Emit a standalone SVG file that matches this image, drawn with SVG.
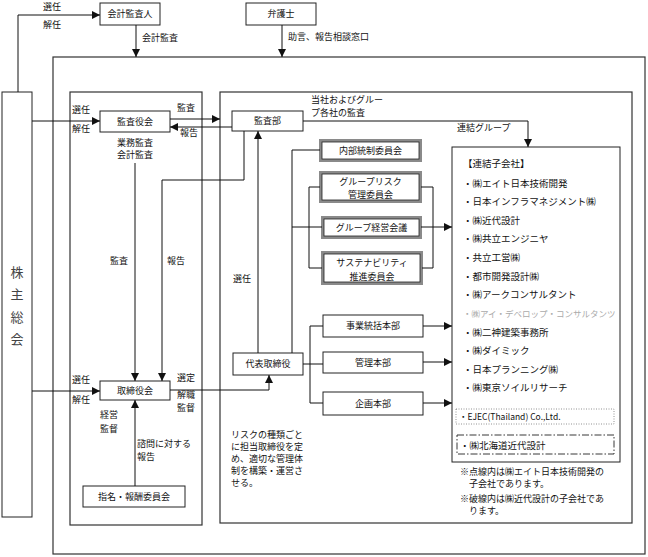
<svg xmlns="http://www.w3.org/2000/svg" width="648" height="557" viewBox="0 0 648 557">
<style>
text{font-family:"Noto Sans CJK JP","Noto Sans",sans-serif;font-size:9px;fill:#111}
.c{text-anchor:middle}
.box{fill:#fff;stroke:#222;stroke-width:1}
.frame{fill:none;stroke:#333;stroke-width:1.2}
.dbo{fill:#fff;stroke:#8a8a8a;stroke-width:3}
.dbi{fill:#fff;stroke:#222;stroke-width:0.8}
.ln{fill:none;stroke:#111;stroke-width:1}
.ar{fill:none;stroke:#111;stroke-width:1;marker-end:url(#ah)}
.li{font-size:9.5px}
</style>
<defs>
<marker id="ah" markerUnits="userSpaceOnUse" markerWidth="8" markerHeight="8" refX="8" refY="4" orient="auto">
<path d="M0,0 L8,4 L0,8 z" fill="#111"/>
</marker>
</defs>

<!-- frames -->
<rect class="frame" x="53" y="57" width="592" height="497"/>
<rect class="frame" x="70" y="92" width="132" height="433"/>
<rect class="frame" x="220" y="92" width="412" height="431"/>

<g id="kabunushi">
<rect class="box" x="2" y="92" width="30" height="425"/>
<text class="c" x="17" y="277" style="font-size:13px;fill:#444">株</text>
<text class="c" x="17" y="299" style="font-size:13px;fill:#444">主</text>
<text class="c" x="17" y="322" style="font-size:13px;fill:#444">総</text>
<text class="c" x="17" y="344" style="font-size:13px;fill:#444">会</text>
</g>

<g id="kaikei">
<rect class="box" x="100" y="3" width="60" height="22"/>
<text class="c" x="130" y="17">会計監査人</text>
</g>

<g id="bengoshi">
<rect class="box" x="246" y="3" width="70" height="22"/>
<text class="c" x="281" y="17">弁護士</text>
</g>

<g id="kansayakukai">
<rect class="box" x="100" y="111" width="70" height="21"/>
<text class="c" x="135" y="124.5">監査役会</text>
</g>

<g id="torishimariyakukai">
<rect class="box" x="100" y="381" width="70" height="19"/>
<text class="c" x="135" y="393.5">取締役会</text>
</g>

<g id="shimei">
<rect class="box" x="83" y="486" width="102" height="21"/>
<text class="c" x="134" y="499.5">指名・報酬委員会</text>
</g>

<g id="kansabu">
<rect class="box" x="232" y="111" width="71" height="20"/>
<text class="c" x="267.5" y="124">監査部</text>
</g>

<g id="daihyo">
<rect class="box" x="233" y="353" width="70" height="22"/>
<text class="c" x="268" y="367">代表取締役</text>
</g>

<g id="naibu">
<rect class="dbo" x="320.5" y="140.5" width="100" height="20"/>
<rect class="dbi" x="322" y="142" width="97" height="17"/>
<text class="c" x="370.5" y="154">内部統制委員会</text>
</g>

<g id="risk">
<rect class="dbo" x="320.5" y="172.5" width="100" height="29"/>
<rect class="dbi" x="322" y="174" width="97" height="26"/>
<text class="c" x="370.5" y="185">グループリスク</text>
<text class="c" x="370.5" y="198">管理委員会</text>
</g>

<g id="keiei">
<rect class="dbo" x="322.5" y="217.5" width="98" height="20"/>
<rect class="dbi" x="324" y="219" width="95" height="17"/>
<text class="c" x="371.5" y="231">グループ経営会議</text>
</g>

<g id="sustain">
<rect class="dbo" x="322.5" y="252.5" width="99" height="31"/>
<rect class="dbi" x="324" y="254" width="96" height="28"/>
<text class="c" x="372" y="265.5">サステナビリティ</text>
<text class="c" x="372" y="279.5">推進委員会</text>
</g>

<g id="jigyo">
<rect class="box" x="323" y="315" width="100" height="22"/>
<text class="c" x="373" y="329">事業統括本部</text>
</g>
<g id="kanri">
<rect class="box" x="323" y="352" width="100" height="21"/>
<text class="c" x="373" y="365.5">管理本部</text>
</g>
<g id="kikaku">
<rect class="box" x="323" y="392" width="100" height="23"/>
<text class="c" x="373" y="406.5">企画本部</text>
</g>

<g id="kogaisha">
<rect class="box" x="452" y="147" width="168" height="315"/>
<text class="li" x="463" y="166.5">【連結子会社】</text>
<text class="li" x="463" y="186.5">・㈱エイト日本技術開発</text>
<text class="li" x="463" y="204.5">・日本インフラマネジメント㈱</text>
<text class="li" x="463" y="223.5">・㈱近代設計</text>
<text class="li" x="463" y="241.5">・㈱共立エンジニヤ</text>
<text class="li" x="463" y="260.5">・共立工営㈱</text>
<text class="li" x="463" y="279.5">・都市開発設計㈱</text>
<text class="li" x="463" y="297.5">・㈱アークコンサルタント</text>
<text class="li" x="463" y="316.5" style="fill:#aaa;font-size:8.5px">・㈱アイ・デベロップ・コンサルタンツ</text>
<text class="li" x="463" y="335.5">・㈱二神建築事務所</text>
<text class="li" x="463" y="353.5">・㈱ダイミック</text>
<text class="li" x="463" y="372.5">・日本プランニング㈱</text>
<text class="li" x="463" y="390.5">・㈱東京ソイルリサーチ</text>
<rect x="456" y="409" width="158" height="15" fill="none" stroke="#777" stroke-width="0.8" stroke-dasharray="1,1.5"/>
<text x="459" y="420" style="font-size:8.5px">・EJEC(Thailand) Co.,Ltd.</text>
<rect x="457" y="435" width="157" height="19" fill="none" stroke="#222" stroke-width="0.9" stroke-dasharray="7,2,1.5,2"/>
<text class="li" x="460" y="448.5">・㈱北海道近代設計</text>
</g>

<g id="notes">
<text x="460" y="475">※点線内は㈱エイト日本技術開発の</text>
<text x="469" y="487">子会社であります。</text>
<text x="460" y="502">※破線内は㈱近代設計の子会社であ</text>
<text x="469" y="514">ります。</text>
<text x="231" y="438">リスクの種類ごと</text>
<text x="231" y="450">に担当取締役を定</text>
<text x="231" y="462">め、適切な管理体</text>
<text x="231" y="474">制を構築・運営さ</text>
<text x="231" y="486">せる。</text>
</g>

<g id="connectors">
<path class="ar" d="M18,92 V15 H100"/>
<path class="ar" d="M136,25 V57"/>
<path class="ar" d="M282,25 V57"/>
<path class="ar" d="M32,121 H100"/>
<path class="ar" d="M32,391 H100"/>
<path class="ar" d="M170,119 H220"/>
<path class="ar" d="M232,127 H170"/>
<path class="ar" d="M135,163 V381"/>
<path class="ar" d="M244,131 V180 H162 V381"/>
<path class="ar" d="M258,353 V131"/>
<path class="ar" d="M170,390 H269 V375"/>
<path class="ar" d="M135,486 V400"/>
<path class="ar" d="M303,121 H528 V147"/>
<path class="ln" d="M292,353 V150 H320"/>
<path class="ln" d="M292,227 H322"/>
<path class="ln" d="M320,187 H309 V268 H322"/>
<path class="ln" d="M421,187 H433 V268 H422"/>
<path class="ar" d="M421,227 H452"/>
<path class="ln" d="M303,364 H323"/>
<path class="ln" d="M323,326 H310 V403 H323"/>
<path class="ar" d="M423,326 H452"/>
<path class="ar" d="M423,362 H452"/>
<path class="ar" d="M423,403 H452"/>
</g>

<g id="labels">
<text x="43" y="10">選任</text>
<text x="43" y="28">解任</text>
<text x="142" y="41">会計監査</text>
<text x="288" y="40">助言、報告相談窓口</text>
<text x="72" y="113">選任</text>
<text x="72" y="132">解任</text>
<text x="177" y="111">監査</text>
<text x="180" y="136">報告</text>
<text class="c" x="135" y="146">業務監査</text>
<text class="c" x="135" y="158">会計監査</text>
<text x="110" y="264">監査</text>
<text x="167" y="264">報告</text>
<text x="233" y="282">選任</text>
<text x="311" y="103">当社およびグルー</text>
<text x="311" y="116">プ各社の監査</text>
<text x="457" y="131">連結グループ</text>
<text x="72" y="383">選任</text>
<text x="72" y="403">解任</text>
<text x="177" y="381">選定</text>
<text x="177" y="398">解職</text>
<text x="177" y="411">監督</text>
<text x="100" y="418">経営</text>
<text x="100" y="432">監督</text>
<text x="137" y="447">諮問に対する</text>
<text x="137" y="460">報告</text>
</g>
</svg>
